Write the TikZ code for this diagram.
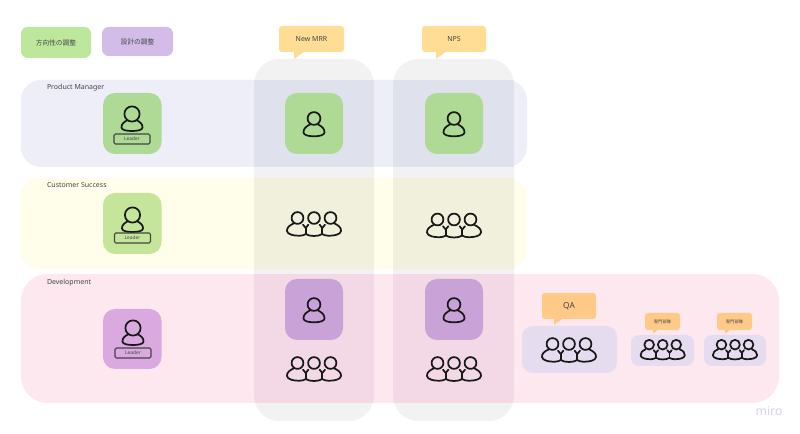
\documentclass[tikz,border=0pt]{standalone}
\usepackage{fontspec}
\setmainfont{Noto Sans}
\newfontfamily\cjk{Noto Sans CJK JP}
\definecolor{bandpm}{HTML}{EEEEF9}
\definecolor{bandcs}{HTML}{FFFEEA}
\definecolor{banddev}{HTML}{FCE8EE}
\definecolor{colgrey}{HTML}{F2F2F2}
\definecolor{ovpm}{HTML}{DFE1EC}
\definecolor{ovcs}{HTML}{F0F0DD}
\definecolor{ovdev}{HTML}{F2D9E5}
\definecolor{legG}{HTML}{BDE79C}
\definecolor{legP}{HTML}{D3BDE8}
\definecolor{tileG}{HTML}{AEDA95}
\definecolor{tileL}{HTML}{C5E69A}
\definecolor{tileP}{HTML}{D9A9DF}
\definecolor{tileD}{HTML}{C9A2D8}
\definecolor{call}{HTML}{FFDD94}
\definecolor{callO}{HTML}{FFC987}
\definecolor{lav}{HTML}{E6DCF0}
\definecolor{ink}{HTML}{454545}
\definecolor{miroc}{HTML}{D5D5E5}
\tikzset{
  x=0.75pt,y=-0.75pt,
  txt/.style={text=ink,inner sep=0pt,outer sep=0pt,font=\fontsize{5.25pt}{6pt}\selectfont},
  cjktxt/.style={text=ink,inner sep=0pt,outer sep=0pt,font=\cjk\fontsize{5pt}{6pt}\selectfont},
  iconline/.style={line width=1.3pt,black!90,line cap=round,line join=round},
  person/.pic={
    \draw[iconline]
      (0,-7.5) circle[radius=6.4]
      (-4,-1.6) .. controls (-8,0.5) and (-10.8,3) .. (-10.5,6.5)
        .. controls (-10.3,9) and (-6,10.3) .. (0,10.3)
        .. controls (6,10.3) and (10.3,9) .. (10.5,6.5)
        .. controls (10.8,3) and (8,0.5) .. (4,-1.6);
  },
  leaderperson/.pic={
    \draw[iconline]
      (0,-8) circle[radius=7.6]
      (-4.6,-1.8) .. controls (-8,0) and (-10.8,2) .. (-10.5,5.5)
        .. controls (-10.3,8) and (-6,9) .. (0,9)
        .. controls (6,9) and (10.3,8) .. (10.5,5.5)
        .. controls (10.8,2) and (8,0) .. (4.6,-1.8);
  },
  team/.pic={
    \begin{scope}[iconline]
      \foreach \hx in {-16.5,0,16.5}{\draw (\hx,-6.5) circle[radius=5.9];}
      \draw (-20.5,-1) .. controls (-25,1) and (-27.3,3.5) .. (-27,6.5)
        .. controls (-26.7,10) and (-20,11.5) .. (-14,11.2)
        .. controls (-11.5,11) and (-9.5,10.6) .. (-8.3,9.5)
        .. controls (-6.5,10.9) and (-3,11.5) .. (0,11.5)
        .. controls (3,11.5) and (6.5,10.9) .. (8.3,9.5)
        .. controls (9.5,10.6) and (11.5,11) .. (14,11.2)
        .. controls (20,11.5) and (26.7,10) .. (27,6.5)
        .. controls (27.3,3.5) and (25,1) .. (20.5,-1);
      \draw (-11,0.2) -- (-8.3,3.5) -- (-5.6,0.2);
      \draw (5.6,0.2) -- (8.3,3.5) -- (11,0.2);
      \draw (-8.3,3.5) -- (-8.3,9.5) (8.3,3.5) -- (8.3,9.5);
    \end{scope}
  },
}
\newcommand{\rbox}[6]{% name, x1,y1,x2,y2, style
  \path[#6] (#2,#3) rectangle (#4,#5);
  \coordinate (#1) at ({(#2+#4)/2},{(#3+#5)/2});
}
\newcommand{\callout}[9]{% name,x1,y1,x2,y2,tipx,tipy,base2x,colour
  \fill[#9,rounded corners=2.2pt] (#2,#3) rectangle (#4,#5);
  \fill[#9] (#6,#5-1) -- (#6,#7) -- (#8,#5-1) -- cycle;
  \coordinate (#1) at ({(#2+#4)/2},{(#3+#5)/2});
}
\begin{document}
\begin{tikzpicture}
\useasboundingbox (0,0) rectangle (800,434);
\fill[white] (0,0) rectangle (800,434);
% legend
\rbox{legA}{21}{27}{91}{58}{fill=legG,rounded corners=5pt}
\rbox{legB}{102}{27}{173}{56}{fill=legP,rounded corners=5pt}
\node[cjktxt] (legAt) at (legA) {方向性の調整};
\node[cjktxt] (legBt) at (legB) {設計の調整};
% bands
\rbox{pm}{21}{80}{527}{167}{fill=bandpm,rounded corners=15pt}
\rbox{cs}{20}{178}{527}{269}{fill=bandcs,rounded corners=15pt}
\rbox{dev}{21}{274}{779}{403}{fill=banddev,rounded corners=20pt}
\node[txt,anchor=west] (pmt) at (47,88) {Product Manager};
\node[txt,anchor=west] (cst) at (47,185.5) {Customer Success};
\node[txt,anchor=west] (devt) at (47,282.5) {Development};
% columns, with their overlaps on the bands
\foreach \xa/\xb in {254/374,393/514}{
  \fill[colgrey,rounded corners=19pt] (\xa,59) rectangle (\xb,421);
  \begin{scope}
    \clip[rounded corners=19pt] (\xa,59) rectangle (\xb,421);
    \fill[ovpm] (\xa,80) rectangle (\xb,167);
    \fill[ovcs] (\xa,178) rectangle (\xb,269);
    \fill[ovdev] (\xa,274) rectangle (\xb,403);
  \end{scope}
}
% callouts
\callout{mrr}{279}{26}{344}{52}{294}{59}{305}{call}
\callout{nps}{422}{26}{486}{52}{436}{59}{447}{call}
\node[txt] (mrrt) at (mrr) {New MRR};
\node[txt] (npst) at (nps) {NPS};
% leader tiles
\rbox{tPM}{103}{93}{161.5}{154}{fill=tileG,rounded corners=9pt}
\rbox{tCS}{103}{193}{161.5}{254}{fill=tileL,rounded corners=9pt}
\rbox{tDV}{103}{309}{161.5}{369}{fill=tileP,rounded corners=9pt}
\foreach \n/\xx/\yy/\ly in {a/132/122/139,b/132.5/223/238,c/133/336/353}{
  \pic at (\xx,\yy) {leaderperson};
  \draw[line width=0.8pt,ink,rounded corners=1pt] (\xx-18,\ly-5) rectangle (\xx+18,\ly+5);
  \node[txt,font=\fontsize{3.6pt}{4pt}\selectfont] (lead\n) at (\xx,\ly) {Leader};
}
% column tiles
\rbox{c1a}{285}{93}{343}{154}{fill=tileG,rounded corners=9pt}
\rbox{c2a}{425}{93}{483}{154}{fill=tileG,rounded corners=9pt}
\rbox{c1b}{285}{279}{343}{340}{fill=tileD,rounded corners=9pt}
\rbox{c2b}{425}{279}{483}{340}{fill=tileD,rounded corners=9pt}
\pic at (314,126) {person};
\pic at (454,126) {person};
\pic at (314,312) {person};
\pic at (454,312) {person};
\pic at (314,224.5) {team};
\pic at (454,226) {team};
\pic at (314,369.5) {team};
\pic at (454,369.5) {team};
% QA and specialists
\rbox{qaBox}{522}{326}{617}{373}{fill=lav,rounded corners=8pt}
\rbox{spA}{631}{335}{694}{366}{fill=lav,rounded corners=6pt}
\rbox{spB}{704}{335}{766}{366}{fill=lav,rounded corners=6pt}
\callout{qa}{542}{293}{596}{319}{554}{325}{563}{callO}
\callout{ca}{645}{313}{680}{330}{653}{333.5}{659}{callO}
\callout{cb}{717}{313}{752}{330}{725}{333.5}{731}{callO}
\node[txt,font=\fontsize{6.2pt}{7pt}\selectfont] (qat) at (qa) {QA};
\node[cjktxt,font=\cjk\fontsize{3.2pt}{4pt}\selectfont] (cat) at (ca) {専門部隊};
\node[cjktxt,font=\cjk\fontsize{3.2pt}{4pt}\selectfont] (cbt) at (cb) {専門部隊};
\pic at (569,350.5) {team};
\pic[scale=0.82] at (662.7,350) {team};
\pic[scale=0.82] at (735,350) {team};
% watermark
\node[text=miroc,inner sep=0pt,font=\bfseries\fontsize{9.2pt}{10pt}\selectfont] (miro) at (769,411) {miro};
\end{tikzpicture}
\end{document}
